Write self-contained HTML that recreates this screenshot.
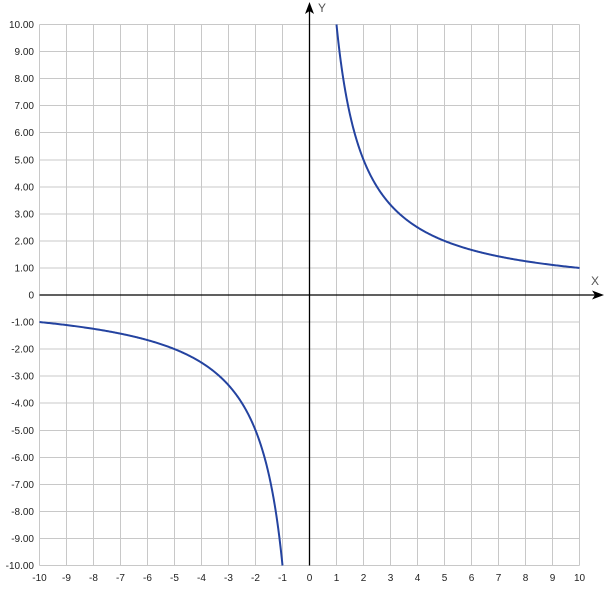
<!DOCTYPE html>
<html><head><meta charset="utf-8"><style>
html,body{margin:0;padding:0;background:#fff;}
svg{display:block;}
text{font-family:"Liberation Sans",Arial,sans-serif;font-size:10px;fill:#222;}
</style></head><body>
<svg width="608" height="606" viewBox="0 0 608 606" xmlns="http://www.w3.org/2000/svg">
<g id="grid" stroke="#c8c8c8" stroke-width="1" shape-rendering="crispEdges"></g>
<g id="axes"></g>
<g id="labels"></g>
<path id="c1" fill="none" stroke="#2443a0" stroke-width="2" stroke-linejoin="round"/>
<path id="c2" fill="none" stroke="#2443a0" stroke-width="2" stroke-linejoin="round"/>
<line x1="309.5" y1="565.5" x2="309.5" y2="8" stroke="#000" stroke-width="1.3"/>
<polygon points="309.5,2 305,14 309.5,11 314,14" fill="#000"/>
<line x1="39.5" y1="295" x2="598" y2="295" stroke="#000" stroke-width="1.3"/>
<polygon points="604,295 592,290.5 595,295 592,299.5" fill="#000"/>
<text x="318" y="12" style="font-size:12px;fill:#555">Y</text>
<text x="591" y="285" style="font-size:12px;fill:#555">X</text>
<script>
(function(){
var ns="http://www.w3.org/2000/svg";
var g=document.getElementById('grid'),L=document.getElementById('labels');
function X(u){return 309.5+27*u;}
function Y(v){return 295-27.05*v;}
for(var i=-10;i<=10;i++){
 var l=document.createElementNS(ns,'line');
 l.setAttribute('x1',X(i));l.setAttribute('x2',X(i));l.setAttribute('y1',Y(10));l.setAttribute('y2',Y(-10));g.appendChild(l);
 var h=document.createElementNS(ns,'line');
 h.setAttribute('y1',Y(i));h.setAttribute('y2',Y(i));h.setAttribute('x1',X(-10));h.setAttribute('x2',X(10));g.appendChild(h);
 var t=document.createElementNS(ns,'text');
 t.setAttribute('x',X(i));t.setAttribute('y',581);t.setAttribute('text-anchor','middle');t.textContent=String(i);L.appendChild(t);
 var s=document.createElementNS(ns,'text');
 s.setAttribute('x',34);s.setAttribute('y',Y(i)+3.5);s.setAttribute('text-anchor','end');s.textContent=(i==0?'0':i.toFixed(2));L.appendChild(s);
}
var d1='',d2='';
for(var k=0;k<=400;k++){
 var u=1+9*Math.pow(k/400,1.6);
 d1+=(k?'L':'M')+X(u).toFixed(2)+' '+Y(10/u).toFixed(2);
 d2+=(k?'L':'M')+X(-u).toFixed(2)+' '+Y(-10/u).toFixed(2);
}
document.getElementById('c1').setAttribute('d',d1);
document.getElementById('c2').setAttribute('d',d2);
})();
</script>
</svg>
</body></html>
